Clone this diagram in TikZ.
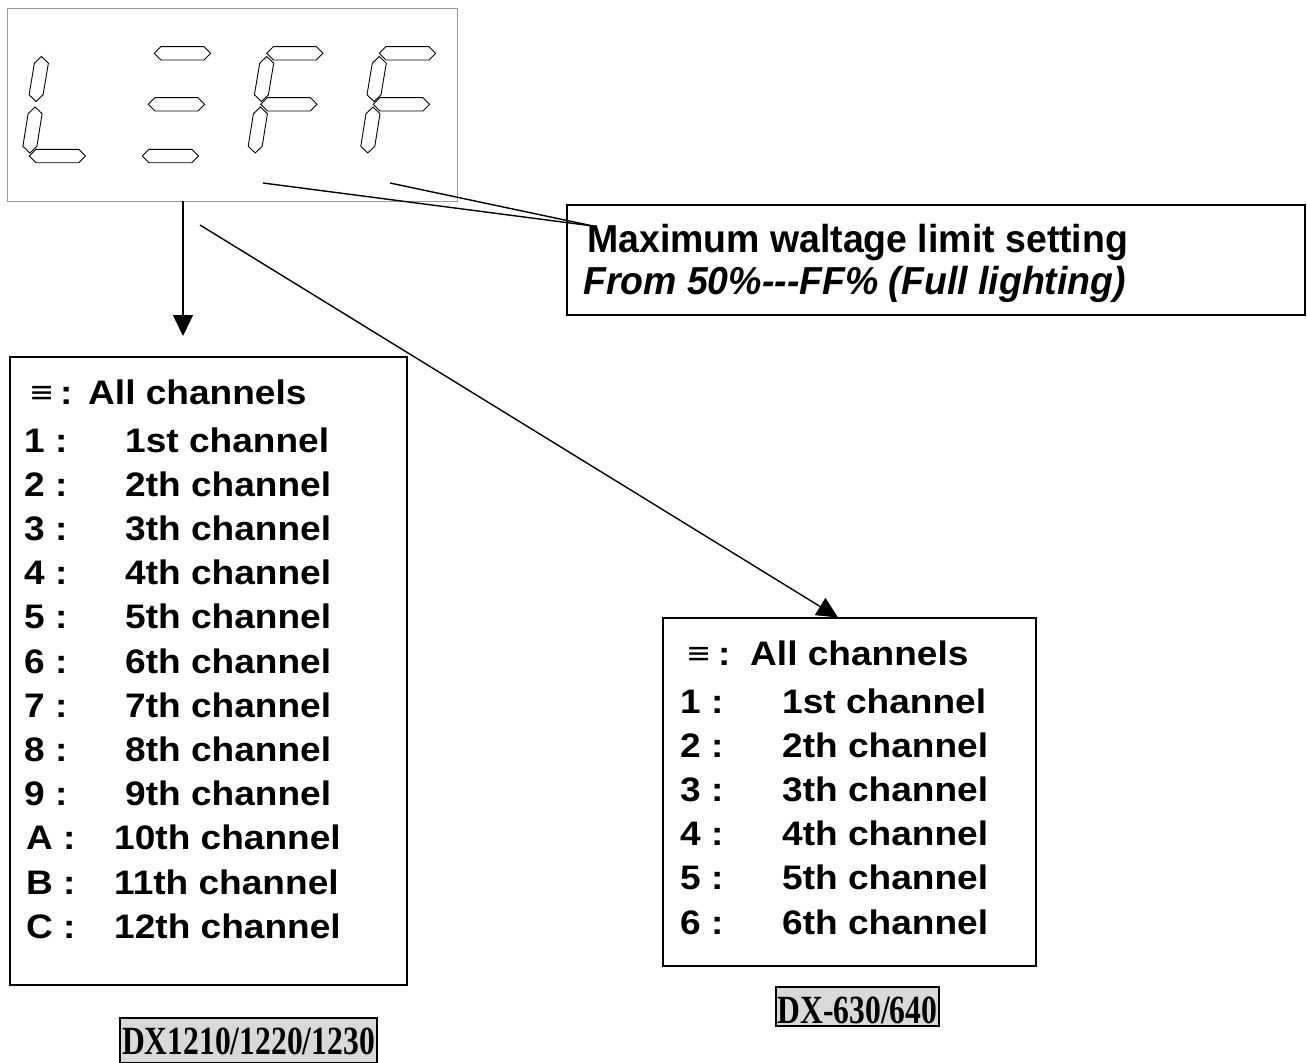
\documentclass[tikz,border=0pt]{standalone}
\usepackage{fontspec}
\newfontfamily\topfont[FakeStretch=0.96]{Liberation Sans}
\newfontfamily\listfont[FakeStretch=1.09]{Liberation Sans}
\newfontfamily\lblfont[FakeStretch=0.79]{Liberation Serif}
\newfontfamily\symfont{DejaVu Sans}
\usetikzlibrary{arrows.meta}
\definecolor{lblgray}{RGB}{217,217,217}
\newcommand{\hseg}[2]{\draw[seg] (#1,#2) -- ++(6.7,-6.7) -- ++(42.9,0) -- ++(6.7,6.7) -- ++(-6.7,6.7) -- ++(-42.9,0) -- cycle;}
\newcommand{\vseg}[4]{\draw[seg] (#1,#2) -- ({#1+7},{#2+6.7}) -- ({#3+7},{#4-6.7}) -- (#3,#4) -- ({#3-7},{#4-6.7}) -- ({#1-7},{#2+6.7}) -- cycle;}
\newcommand{\sgA}[1]{\hseg{#1}{53.3}}
\newcommand{\sgG}[1]{\hseg{#1-6}{104.3}}
\newcommand{\sgD}[1]{\hseg{#1-12.1}{156}}
\newcommand{\sgF}[1]{\vseg{#1}{56.5}{#1-5.3}{101.5}}
\newcommand{\sgE}[1]{\vseg{#1-6.3}{107}{#1-11.5}{153}}
\begin{document}
\begin{tikzpicture}[x=1pt,y=-1pt,
  seg/.style={draw=black,line width=0.9pt,line join=miter},
  boxed/.style={draw=black,line width=1.6pt,anchor=north west,inner sep=0,outer sep=0},
  conn/.style={draw=black,line width=1.4pt},
  arr/.style={conn,-{Triangle[length=21pt,width=20pt]}},
  toptxt/.style={anchor=base west,inner sep=0,font=\topfont\fontsize{39}{42}\selectfont\bfseries},
  listtxt/.style={anchor=base west,inner sep=0,font=\listfont\fontsize{34}{38}\selectfont\bfseries},
  eqv/.style={anchor=base west,inner sep=0,font=\symfont\fontsize{30}{32}\selectfont},
  lblbox/.style={draw=black,fill=lblgray,line width=2.4pt,anchor=north west,inner sep=0,outer sep=0},
  lbltxt/.style={anchor=base,inner sep=0,font=\lblfont\fontsize{40}{44}\selectfont\bfseries}]
\fill[white] (0,0) rectangle (1307,1063);
\clip (0,0) rectangle (1307,1063);

% display
\node[draw=gray!80,line width=1pt,anchor=north west,inner sep=0,outer sep=0,minimum width=450,minimum height=193] (disp) at (7,8) {};
% L
\sgF{41.4}\sgE{41.4}\sgD{41.4}
% E-like
\sgA{154.3}\sgG{154.3}\sgD{154.3}
% F
\sgA{266.7}\sgF{266.7}\sgG{266.7}\sgE{266.7}
% F
\sgA{379.3}\sgF{379.3}\sgG{379.3}\sgE{379.3}

% description box
\node[boxed,line width=1.4pt,minimum width=738,minimum height=110] (tbox) at (567,205) {};
\node[toptxt] (t1) at (587,252) {Maximum waltage limit setting};
\node[toptxt,font=\topfont\fontsize{39}{42}\selectfont\bfseries\itshape] (t2) at (583,294) {From 50\%---FF\% (Full lighting)};
\coordinate (p1) at (263,183);
\coordinate (p2) at (390,183);
\coordinate (pm) at (593,226);
\draw[conn] (p1) -- (pm);
\draw[conn] (p2) -- (pm);

% left list box
\node[boxed,minimum width=397,minimum height=628] (lbox) at (10,357) {};
\node[eqv] (Leq) at (29,402) {≡};
\node[listtxt] (Lcol) at (60,404) {:};
\node[listtxt] (Lall) at (88,404) {All channels};
\foreach \lab/\txt/\lx/\tx [count=\i from 0] in {1/1st/24/125,2/2th/24/125,3/3th/24/125,4/4th/24/125,5/5th/24/125,6/6th/24/125,7/7th/24/125,8/8th/24/125,9/9th/24/125,A/10th/26/114,B/11th/26/114,C/12th/26/114}{
  \node[listtxt] (Lk\i) at (\lx,{452+\i*44.2}) {\lab\ :};
  \node[listtxt] (Lc\i) at (\tx,{452+\i*44.2}) {\txt\ channel};
}

% right list box
\node[boxed,minimum width=373,minimum height=348] (rbox) at (663,618) {};
\node[eqv] (Req) at (686,663) {≡};
\node[listtxt] (Rcol) at (718,665) {:};
\node[listtxt] (Rall) at (750,665) {All channels};
\foreach \lab/\txt [count=\i from 0] in {1/1st,2/2th,3/3th,4/4th,5/5th,6/6th}{
  \node[listtxt] (Rk\i) at (680,{713+\i*44.2}) {\lab\ :};
  \node[listtxt] (Rc\i) at (782,{713+\i*44.2}) {\txt\ channel};
}

% arrows
\coordinate (va) at (183,201);
\coordinate (vb) at (183,336);
\draw[arr] (va) -- (vb);
\coordinate (da) at (200,225);
\coordinate (db) at (838,617.5);
\draw[arr] (da) -- (db);

% model labels
\node[lblbox,minimum width=163,minimum height=39] (lab2box) at (776,987) {};
\node[lbltxt] (lab2) at (857.5,1023) {DX-630/640};
\node[lblbox,minimum width=257,minimum height=45] (lab1box) at (120,1018) {};
\node[lbltxt] (lab1) at (248.5,1054) {DX1210/1220/1230};
\end{tikzpicture}
\end{document}
